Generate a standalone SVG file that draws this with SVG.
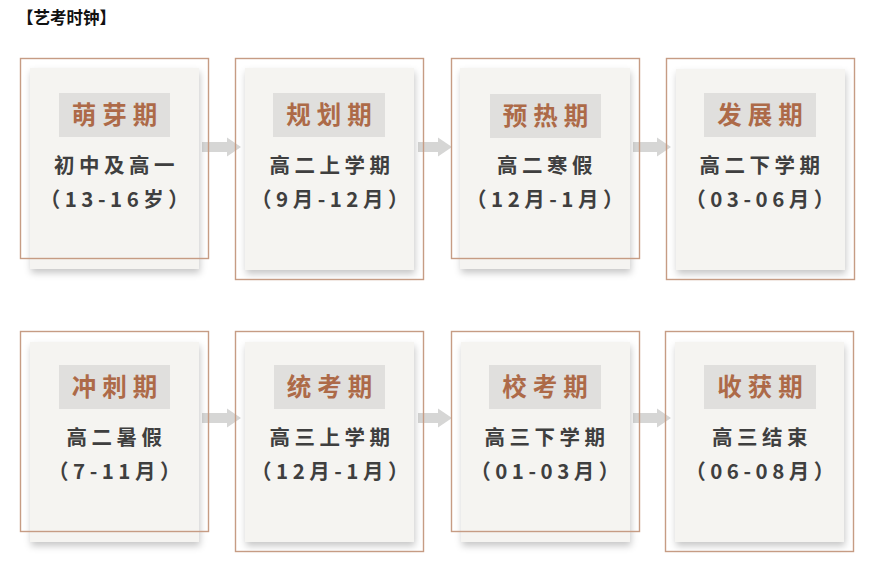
<svg xmlns="http://www.w3.org/2000/svg" width="877" height="565" viewBox="0 0 877 565">
<defs>
<filter id="sh" x="-20%" y="-20%" width="140%" height="140%">
<feDropShadow dx="1" dy="4" stdDeviation="3.5" flood-color="#000" flood-opacity="0.22"/>
</filter>
</defs>
<style>
.card{fill:#f5f4f1;filter:url(#sh)}
.frame{fill:none;stroke:#c69c84;stroke-width:1.4}
.tbg{fill:#e0dfdd}
.title{font-family:"Noto Sans CJK SC","Noto Sans CJK JP",sans-serif;font-weight:700;font-size:24.5px;fill:#ad6a48;letter-spacing:6px;text-anchor:middle}
.body{font-family:"Noto Sans CJK SC","Noto Sans CJK JP",sans-serif;font-weight:700;font-size:20.5px;fill:#3f3f3f;letter-spacing:4.5px;text-anchor:middle}
.head{font-family:"Noto Sans CJK SC",sans-serif;font-weight:700;font-size:16.5px;fill:#111}
.arrow{fill:#d6d6d5}
</style>
<rect width="877" height="565" fill="#fff"/>
<text class="head" x="17" y="24">【艺考时钟】</text>
<g id="connectors">
<path class="arrow" d="M202,142 H227 V137.5 L241,147 L227,156.5 V152 H202 Z"/>
<path class="arrow" d="M418,142 H438 V137.5 L452,147 L438,156.5 V152 H418 Z"/>
<path class="arrow" d="M633,142 H657 V137.5 L671,147 L657,156.5 V152 H633 Z"/>
<path class="arrow" d="M202,413 H227 V408.5 L241,418 L227,427.5 V423 H202 Z"/>
<path class="arrow" d="M418,413 H438 V408.5 L452,418 L438,427.5 V423 H418 Z"/>
<path class="arrow" d="M633,413 H657 V408.5 L671,418 L657,427.5 V423 H633 Z"/>
</g>
<g id="n1">
<rect class="card" x="30" y="68" width="169" height="201"/>
<rect class="frame" x="20.5" y="58.5" width="188" height="200"/>
<rect class="tbg" x="59" y="93" width="111" height="44"/>
<text class="title" x="117.5" y="124">萌芽期</text>
<text class="body" x="116.5" y="173">初中及高一</text>
<text class="body" x="116.5" y="207">（13-16岁）</text>
</g>
<g id="n2">
<rect class="card" x="245" y="68" width="169" height="202"/>
<rect class="frame" x="235.5" y="58.5" width="188" height="221"/>
<rect class="tbg" x="273" y="93" width="112" height="44"/>
<text class="title" x="332" y="124">规划期</text>
<text class="body" x="332" y="173">高二上学期</text>
<text class="body" x="332" y="207">（9月-12月）</text>
</g>
<g id="n3">
<rect class="card" x="460" y="68" width="170" height="201"/>
<rect class="frame" x="451.5" y="58.5" width="188" height="200"/>
<rect class="tbg" x="490" y="94" width="111" height="44"/>
<text class="title" x="548.5" y="125">预热期</text>
<text class="body" x="547" y="173">高二寒假</text>
<text class="body" x="547" y="207">（12月-1月）</text>
</g>
<g id="n4">
<rect class="card" x="676" y="69" width="169" height="201"/>
<rect class="frame" x="666.5" y="58.5" width="188" height="221"/>
<rect class="tbg" x="704" y="93" width="112" height="44"/>
<text class="title" x="763" y="124">发展期</text>
<text class="body" x="762" y="173">高二下学期</text>
<text class="body" x="762" y="207">（03-06月）</text>
</g>
<g id="n5">
<rect class="card" x="30" y="342" width="169" height="200"/>
<rect class="frame" x="20.5" y="331.5" width="188" height="200"/>
<rect class="tbg" x="59" y="365" width="111" height="44"/>
<text class="title" x="117.5" y="396">冲刺期</text>
<text class="body" x="116.5" y="445">高二暑假</text>
<text class="body" x="116.5" y="479">（7-11月）</text>
</g>
<g id="n6">
<rect class="card" x="245" y="342" width="169" height="200"/>
<rect class="frame" x="235.5" y="331.5" width="188" height="220"/>
<rect class="tbg" x="274" y="365" width="111" height="44"/>
<text class="title" x="332.5" y="396">统考期</text>
<text class="body" x="332" y="445">高三上学期</text>
<text class="body" x="332" y="479">（12月-1月）</text>
</g>
<g id="n7">
<rect class="card" x="461" y="342" width="169" height="200"/>
<rect class="frame" x="451.5" y="331.5" width="188" height="200"/>
<rect class="tbg" x="489" y="365" width="112" height="44"/>
<text class="title" x="548" y="396">校考期</text>
<text class="body" x="547" y="445">高三下学期</text>
<text class="body" x="547" y="479">（01-03月）</text>
</g>
<g id="n8">
<rect class="card" x="675" y="342" width="169" height="200"/>
<rect class="frame" x="665.5" y="331.5" width="188" height="220"/>
<rect class="tbg" x="704" y="365" width="112" height="44"/>
<text class="title" x="763" y="396">收获期</text>
<text class="body" x="762" y="445">高三结束</text>
<text class="body" x="762" y="479">（06-08月）</text>
</g>
</svg>
